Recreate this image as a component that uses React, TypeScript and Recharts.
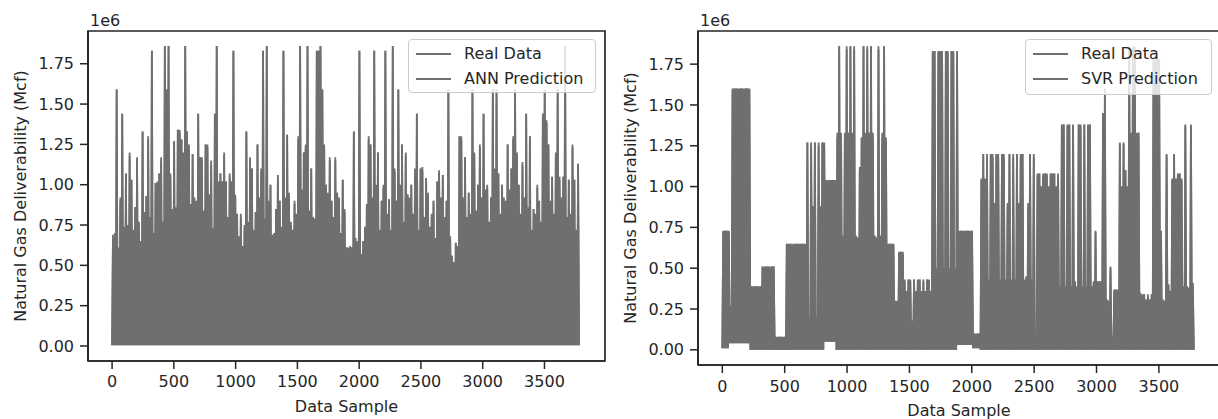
import { LineChart, Line, XAxis, YAxis, Legend, Label, ReferenceArea } from 'recharts'

/**
 * Real vs predicted natural gas deliverability (two panels: ANN and SVR).
 * Values are in 1e6 Mcf. Each entry is the peak of one 15-sample bin,
 * read off the reference plot; the series drops to the floor between bins.
 */

const SAMPLE_TICKS = [0, 500, 1000, 1500, 2000, 2500, 3000, 3500]
const VALUE_TICKS = [0, 0.25, 0.5, 0.75, 1, 1.25, 1.5, 1.75]
const X_DOMAIN: [number, number] = [-195, 3990]
const Y_DOMAIN: [number, number] = [-0.093, 1.953]
const BIN = 15

// left panel – real data peaks per bin
const leftReal = [
  0.69, 0.67, 1.59, 0.58, 0.92, 1.44, 0.74, 1.07, 0.72, 1.2, 1.03, 0.7, 0.86, 1.17, 0.75, 0.65, 1.33, 0.83, 0.93, 1.3,
  0.77, 1.83, 0.68, 1.01, 1.02, 1.07, 1.17, 0.75, 1.86, 1.59, 1.86, 1.07, 0.82, 1.27, 0.84, 1.34, 1.34, 1.28, 1.2, 1.86,
  1.33, 1.25, 0.86, 1.19, 0.92, 0.88, 1.44, 1.17, 1.17, 0.82, 1.25, 1.25, 0.94, 1.15, 0.7, 1.44, 1.86, 1.02, 1.07, 1.02,
  1.2, 1.02, 0.78, 1.07, 1.02, 1.83, 0.94, 0.8, 0.66, 0.82, 0.6, 0.73, 1.33, 0.75, 1.17, 1.1, 0.7, 0.83, 1.25, 0.9,
  1.1, 1.83, 0.77, 1.86, 0.9, 1.0, 0.67, 0.68, 0.85, 1.06, 0.9, 0.72, 1.83, 0.9, 1.31, 0.95, 0.75, 0.7, 0.9, 0.8,
  1.3, 1.86, 0.95, 1.2, 1.25, 1.86, 0.82, 1.1, 0.8, 0.77, 1.83, 1.83, 1.86, 1.59, 1.25, 1.0, 0.93, 1.17, 0.9, 0.78,
  1.17, 0.95, 0.9, 0.68, 1.03, 0.85, 0.61, 0.61, 0.61, 0.61, 1.33, 0.65, 0.65, 1.83, 0.55, 0.65, 0.72, 0.88, 1.3, 1.25,
  0.9, 1.83, 1.0, 1.2, 0.7, 0.9, 1.0, 1.83, 0.8, 0.91, 0.7, 1.86, 1.1, 0.9, 1.59, 1.0, 1.25, 0.75, 1.2, 0.94,
  0.9, 1.0, 0.8, 1.1, 1.44, 0.7, 1.1, 1.11, 0.8, 1.04, 0.95, 0.72, 0.8, 0.9, 0.65, 1.02, 1.09, 0.9, 1.06, 0.8,
  0.9, 1.59, 0.68, 0.56, 0.5, 0.64, 0.6, 1.3, 1.3, 0.9, 1.17, 0.8, 0.95, 0.8, 1.59, 1.2, 0.82, 1.0, 1.25, 0.9,
  1.44, 0.95, 1.0, 0.75, 0.92, 1.59, 1.1, 1.59, 1.07, 0.8, 1.0, 0.9, 0.9, 1.25, 0.95, 1.1, 1.3, 1.59, 1.2, 1.0,
  0.8, 1.14, 0.9, 1.44, 0.86, 1.3, 0.7, 0.85, 0.8, 1.0, 0.9, 0.75, 1.44, 1.59, 1.4, 1.25, 0.9, 1.05, 0.8, 1.2,
  1.59, 1.05, 0.9, 1.05, 1.86, 0.8, 1.03, 0.8, 1.25, 1.03, 0.7, 1.13,
]

// left panel – ANN prediction peaks per bin
const leftAnn = [
  0.66, 0.7, 1.59, 0.61, 0.9, 1.44, 0.72, 1.07, 0.75, 1.18, 1.03, 0.72, 0.86, 1.15, 0.77, 0.65, 1.33, 0.8, 0.93, 1.28,
  0.8, 1.83, 0.7, 1.01, 0.98, 1.07, 1.15, 0.77, 1.86, 1.59, 1.86, 1.05, 0.85, 1.27, 0.86, 1.34, 1.32, 1.28, 1.18, 1.86,
  1.33, 1.22, 0.88, 1.19, 0.9, 0.9, 1.44, 1.17, 1.15, 0.84, 1.25, 1.23, 0.94, 1.12, 0.73, 1.44, 1.86, 1.0, 1.07, 1.02,
  1.18, 1.02, 0.8, 1.05, 1.02, 1.83, 0.92, 0.82, 0.68, 0.8, 0.62, 0.75, 1.33, 0.77, 1.15, 1.1, 0.72, 0.83, 1.25, 0.92,
  1.08, 1.83, 0.79, 1.86, 0.88, 1.0, 0.69, 0.7, 0.85, 1.04, 0.9, 0.74, 1.83, 0.92, 1.31, 0.93, 0.77, 0.72, 0.88, 0.82,
  1.28, 1.86, 0.97, 1.2, 1.23, 1.86, 0.84, 1.1, 0.78, 0.79, 1.83, 1.83, 1.86, 1.59, 1.23, 1.0, 0.95, 1.15, 0.9, 0.8,
  1.15, 0.95, 0.92, 0.7, 1.03, 0.83, 0.61, 0.6, 0.62, 0.61, 1.33, 0.67, 0.63, 1.83, 0.57, 0.65, 0.74, 0.88, 1.28, 1.25,
  0.92, 1.83, 0.98, 1.2, 0.72, 0.9, 0.98, 1.83, 0.82, 0.91, 0.72, 1.86, 1.08, 0.9, 1.59, 0.98, 1.25, 0.77, 1.18, 0.94,
  0.92, 1.0, 0.82, 1.08, 1.44, 0.72, 1.1, 1.09, 0.8, 1.04, 0.93, 0.74, 0.82, 0.9, 0.67, 1.02, 1.07, 0.92, 1.06, 0.78,
  0.9, 1.59, 0.66, 0.56, 0.52, 0.64, 0.62, 1.3, 1.28, 0.92, 1.17, 0.78, 0.95, 0.82, 1.59, 1.18, 0.84, 1.0, 1.23, 0.92,
  1.44, 0.97, 0.98, 0.77, 0.92, 1.59, 1.08, 1.59, 1.07, 0.82, 1.0, 0.92, 0.88, 1.25, 0.97, 1.1, 1.28, 1.59, 1.18, 1.0,
  0.82, 1.12, 0.92, 1.44, 0.84, 1.3, 0.72, 0.85, 0.82, 0.98, 0.9, 0.77, 1.44, 1.59, 1.38, 1.25, 0.88, 1.05, 0.82, 1.18,
  1.59, 1.03, 0.92, 1.05, 1.86, 0.78, 1.03, 0.82, 1.23, 1.03, 0.72, 1.13,
]

// right panel – real data peaks per bin
const rightReal = [
  0.73, 0.73, 0.73, 0.73, 0.27,
  1.6, 1.6, 1.6, 1.6, 1.6, 1.6, 1.6, 1.6, 1.6, 1.6,
  0.39, 0.39, 0.39, 0.39, 0.39, 0.39,
  0.51, 0.51, 0.51, 0.51, 0.51, 0.51, 0.51,
  0.08, 0.08, 0.08, 0.08, 0.08, 0.08,
  0.65, 0.65, 0.65, 0.6, 0.65, 0.65, 0.65, 0.65, 0.65, 0.65, 0.65,
  1.27, 0.17, 1.27, 0.88, 1.27, 0.17, 1.27, 0.88, 1.27, 1.27,
  1.04, 1.04, 1.04, 1.04, 1.04, 1.04,
  1.33, 1.86, 1.33, 0.69, 1.33, 1.86, 1.33, 1.86, 1.33, 1.86, 0.69, 0.69, 1.12, 1.3,
  1.86, 1.33, 1.86, 1.33, 1.86, 1.33, 0.69, 0.69, 1.86, 0.69, 1.33, 1.86, 1.3,
  0.65, 0.65, 0.65, 0.65, 0.3, 0.3, 0.6, 0.6, 0.6,
  0.43, 0.35, 0.43, 0.43, 0.15, 0.43, 0.35, 0.43, 0.43, 0.35, 0.43, 0.35, 0.43, 0.43, 0.35,
  1.83, 1.83, 0.49, 1.83, 1.83, 1.83, 0.49, 1.83, 1.83, 0.49, 1.83, 1.83, 0.49, 1.83,
  0.73, 0.73, 0.73, 0.73, 0.73, 0.73, 0.73, 0.73,
  0.1, 0.1, 0.1, 0.1,
  1.05, 1.2, 1.05, 1.2, 0.42, 1.2, 1.2, 0.9, 1.2, 1.2, 0.42, 1.2, 1.2, 0.42, 0.9,
  1.2, 0.42, 1.2, 0.42, 1.2, 0.9, 1.2, 1.2, 0.42, 0.44, 0.9, 1.2, 0.42, 1.2,
  0.08, 1.08, 1.08, 1.0, 1.08, 1.08, 1.08, 1.0, 1.08, 1.08, 1.08, 1.0, 1.08,
  0.38, 1.38, 1.38, 0.38, 1.38, 1.38, 0.38, 1.38, 0.42, 0.38, 1.38, 1.38, 0.38, 1.38, 0.38, 1.38, 1.38, 0.38,
  0.42, 0.73, 0.42, 0.42, 0.42, 1.45,
  1.6, 0.3, 0.3, 0.51,
  0.06, 0.37, 0.37, 0.37,
  1.27, 1.0, 1.27, 1.1, 1.0,
  1.86, 1.33, 1.86, 1.86, 1.33, 1.33, 0.34,
  0.34, 0.34, 0.3, 0.34, 0.3, 0.34,
  1.78, 1.78, 1.78, 1.78,
  0.73, 0.3, 0.3, 1.2, 0.4,
  0.35, 1.05, 1.2, 1.05, 1.08, 1.08, 1.05,
  0.38, 1.38, 0.38, 0.38, 1.38, 0.41,
]

// right panel – SVR prediction peaks per bin
const rightSvr = [
  0.72, 0.73, 0.73, 0.72, 0.26,
  1.59, 1.6, 1.6, 1.59, 1.6, 1.6, 1.59, 1.6, 1.6, 1.59,
  0.39, 0.38, 0.39, 0.39, 0.38, 0.39,
  0.51, 0.5, 0.51, 0.51, 0.5, 0.51, 0.51,
  0.08, 0.07, 0.08, 0.08, 0.07, 0.08,
  0.65, 0.64, 0.65, 0.65, 0.64, 0.65, 0.65, 0.64, 0.65, 0.65, 0.64,
  1.27, 0.2, 1.25, 0.85, 1.27, 0.2, 1.25, 0.85, 1.27, 1.25,
  1.04, 1.03, 1.04, 1.04, 1.03, 1.04,
  1.3, 1.86, 1.3, 0.7, 1.3, 1.84, 1.33, 1.86, 1.3, 1.84, 0.7, 0.68, 1.1, 1.3,
  1.86, 1.3, 1.84, 1.33, 1.86, 1.3, 0.7, 0.68, 1.84, 0.7, 1.3, 1.86, 1.28,
  0.64, 0.65, 0.65, 0.64, 0.3, 0.29, 0.59, 0.6, 0.59,
  0.42, 0.36, 0.43, 0.42, 0.18, 0.43, 0.36, 0.42, 0.43, 0.36, 0.42, 0.36, 0.43, 0.42, 0.36,
  1.82, 1.83, 0.5, 1.82, 1.83, 1.82, 0.5, 1.83, 1.82, 0.5, 1.83, 1.82, 0.5, 1.82,
  0.72, 0.73, 0.73, 0.72, 0.73, 0.73, 0.72, 0.73,
  0.1, 0.09, 0.1, 0.1,
  1.04, 1.2, 1.04, 1.18, 0.43, 1.2, 1.18, 0.88, 1.2, 1.18, 0.43, 1.2, 1.18, 0.43, 0.88,
  1.2, 0.43, 1.18, 0.43, 1.2, 0.88, 1.18, 1.2, 0.43, 0.45, 0.88, 1.2, 0.43, 1.18,
  0.1, 1.07, 1.08, 1.0, 1.07, 1.08, 1.07, 1.0, 1.08, 1.07, 1.08, 1.0, 1.07,
  0.39, 1.37, 1.38, 0.39, 1.37, 1.38, 0.39, 1.37, 0.42, 0.39, 1.38, 1.37, 0.39, 1.38, 0.39, 1.37, 1.38, 0.39,
  0.41, 0.72, 0.41, 0.42, 0.41, 1.44,
  1.58, 0.31, 0.3, 0.5,
  0.08, 0.36, 0.37, 0.36,
  1.26, 1.0, 1.26, 1.1, 1.0,
  1.84, 1.32, 1.85, 1.84, 1.32, 1.33, 0.35,
  0.33, 0.34, 0.31, 0.33, 0.31, 0.34,
  1.77, 1.78, 1.77, 1.78,
  0.72, 0.31, 0.3, 1.19, 0.4,
  0.36, 1.04, 1.19, 1.04, 1.07, 1.08, 1.04,
  0.39, 1.37, 0.39, 0.38, 1.37, 0.4,
]

// floor level between peaks: [number of bins, value]
const leftFloorRuns: [number, number][] = [[252, 0.005]]
const rightFloorRuns: [number, number][] = [
  [4, 0.01], [11, 0.04], [40, 0], [6, 0.05], [65, 0], [8, 0.03], [4, 0.01], [114, 0],
]

const INK = '#262626'
const LINE = '#6f6f6f'

type Row = { sample: number; real: number; pred: number }

function expandRuns(runs: [number, number][]) {
  const out: number[] = []
  runs.forEach(([n, v]) => {
    for (let i = 0; i < n; i++) out.push(v)
  })
  return out
}

function buildRows(real: number[], pred: number[], floorRuns: [number, number][]) {
  const floor = expandRuns(floorRuns)
  const rows: Row[] = []
  real.forEach((peak, i) => {
    rows.push({ sample: i * BIN, real: floor[i], pred: floor[i] })
    rows.push({ sample: i * BIN + 7, real: peak, pred: pred[i] })
  })
  const last = floor[floor.length - 1]
  rows.push({ sample: real.length * BIN, real: last, pred: last })
  return rows
}

const leftRows = buildRows(leftReal, leftAnn, leftFloorRuns)
const rightRows = buildRows(rightReal, rightSvr, rightFloorRuns)

function LegendBox(props: any) {
  const items = props.payload ?? []
  return (
    <div
      style={{
        boxSizing: 'border-box',
        width: '100%',
        height: '100%',
        background: 'rgba(255,255,255,0.8)',
        border: '1px solid #cccccc',
        borderRadius: 4,
        padding: '1px 0 0 7px',
        color: INK,
        fontSize: 16,
        textAlign: 'left',
      }}
    >
      {items.map((it: any) => (
        <div key={it.value} style={{ display: 'flex', alignItems: 'center', height: 25 }}>
          <span style={{ display: 'inline-block', width: 35, height: 2, background: it.color, marginRight: 13 }} />
          <span>{it.value}</span>
        </div>
      ))}
    </div>
  )
}

interface PanelProps {
  rows: Row[]
  predName: string
  width: number
  rightMargin: number
  xAxisHeight: number
  xTickMargin: number
  xLabelOffset: number
  legendLeft: number
  legendWidth: number
  legendHeight: number
}

function Panel({
  rows,
  predName,
  width,
  rightMargin,
  xAxisHeight,
  xTickMargin,
  xLabelOffset,
  legendLeft,
  legendWidth,
  legendHeight,
}: PanelProps) {
  const axisLine = { stroke: INK, strokeWidth: 1.7 }
  const tickLine = { stroke: INK, strokeWidth: 1.5 }
  const tick = { fill: INK, fontSize: 16 }
  return (
    <LineChart width={width} height={419} data={rows} margin={{ top: 31, right: rightMargin, bottom: 0, left: 0 }}>
      <XAxis
        dataKey="sample"
        type="number"
        domain={X_DOMAIN}
        allowDataOverflow
        ticks={SAMPLE_TICKS}
        interval={0}
        height={xAxisHeight}
        tickSize={8}
        tickMargin={xTickMargin}
        tick={tick}
        tickLine={tickLine}
        axisLine={axisLine}
      >
        <Label value="Data Sample" position="insideBottom" offset={xLabelOffset} fill={INK} fontSize={16} />
      </XAxis>
      <YAxis
        type="number"
        domain={Y_DOMAIN}
        allowDataOverflow
        ticks={VALUE_TICKS}
        interval={0}
        width={88}
        tickSize={8}
        tickMargin={6}
        tickFormatter={(v: number) => v.toFixed(2)}
        tick={tick}
        tickLine={tickLine}
        axisLine={axisLine}
      >
        <Label
          value="Natural Gas Deliverability (Mcf)"
          angle={-90}
          position="insideLeft"
          offset={20}
          fill={INK}
          fontSize={16}
          style={{ textAnchor: 'middle' }}
        />
      </YAxis>
      <Legend
        layout="vertical"
        align="center"
        verticalAlign="middle"
        itemSorter={(item: any) => (item.dataKey === 'real' ? 0 : 1)}
        wrapperStyle={{ left: legendLeft, top: 39, width: legendWidth, height: legendHeight }}
        content={LegendBox}
      />
      <Line
        type="linear"
        dataKey="real"
        name="Real Data"
        stroke={LINE}
        strokeWidth={1.8}
        dot={false}
        activeDot={false}
        isAnimationActive={false}
      />
      <Line
        type="linear"
        dataKey="pred"
        name={predName}
        stroke={LINE}
        strokeWidth={1.8}
        dot={false}
        activeDot={false}
        isAnimationActive={false}
      />
      {/* frame around the plot, like matplotlib's four spines */}
      <ReferenceArea
        x1={X_DOMAIN[0]}
        x2={X_DOMAIN[1]}
        y1={Y_DOMAIN[0]}
        y2={Y_DOMAIN[1]}
        fill="none"
        fillOpacity={0}
        stroke={INK}
        strokeWidth={1.7}
        ifOverflow="visible"
      />
    </LineChart>
  )
}

export default function App() {
  const offsetLabel = { position: 'absolute' as const, top: 12, fontSize: 16, lineHeight: '18px', color: INK }
  return (
    <div
      style={{
        position: 'absolute',
        left: 0,
        top: 0,
        width: 1218,
        height: 419,
        overflow: 'hidden',
        background: '#ffffff',
        fontFamily: '"DejaVu Sans", sans-serif',
      }}
    >
      <div style={{ position: 'absolute', left: 0, top: 0 }}>
        <Panel
          rows={leftRows}
          predName="ANN Prediction"
          width={610}
          rightMargin={5}
          xAxisHeight={58}
          xTickMargin={7}
          xLabelOffset={7}
          legendLeft={408}
          legendWidth={188}
          legendHeight={54}
        />
      </div>
      <div style={{ ...offsetLabel, left: 90 }}>1e6</div>
      <div style={{ position: 'absolute', left: 610, top: 0 }}>
        <Panel
          rows={rightRows}
          predName="SVR Prediction"
          width={612}
          rightMargin={2}
          xAxisHeight={54}
          xTickMargin={8}
          xLabelOffset={3}
          legendLeft={415}
          legendWidth={187}
          legendHeight={56}
        />
      </div>
      <div style={{ ...offsetLabel, left: 700 }}>1e6</div>
    </div>
  )
}
